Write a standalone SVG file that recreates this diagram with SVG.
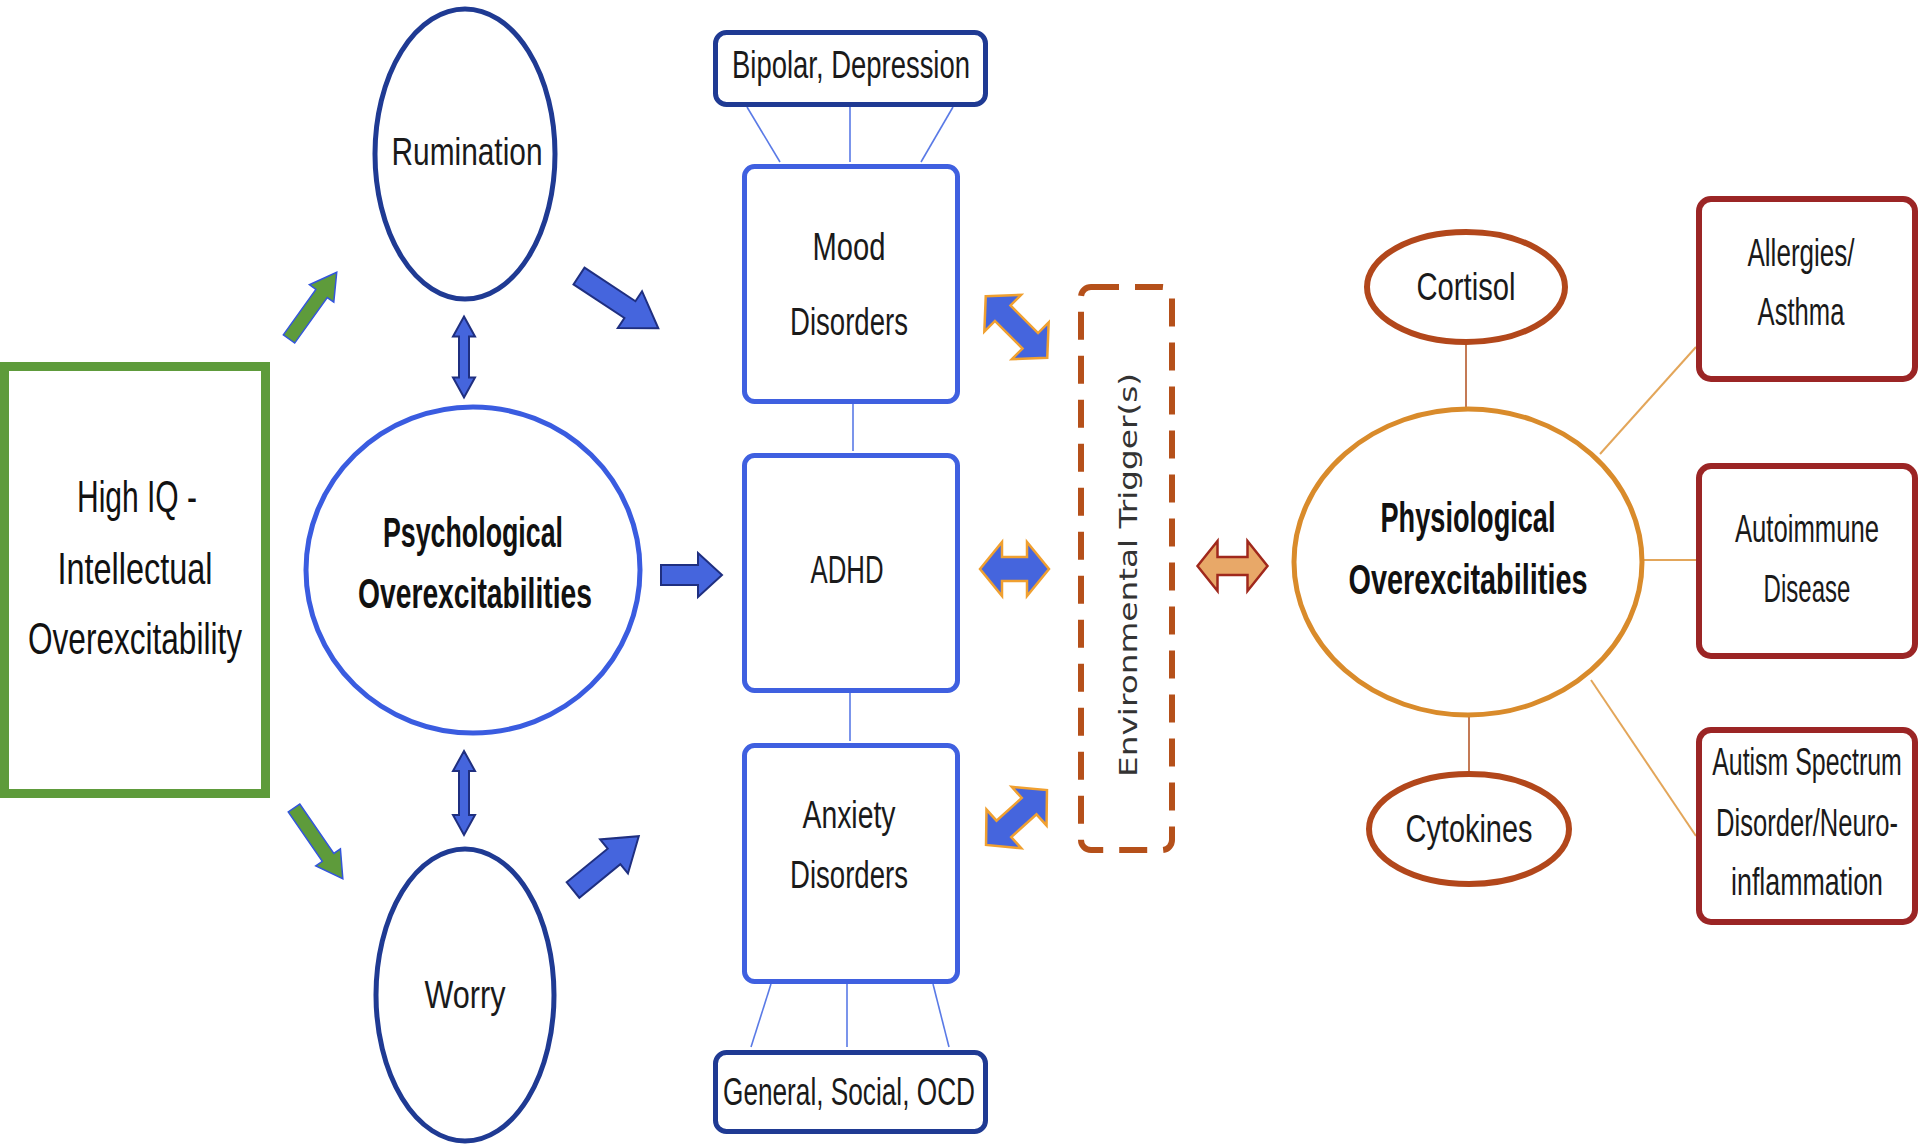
<svg xmlns="http://www.w3.org/2000/svg" width="1920" height="1144" viewBox="0 0 1920 1144">
<style>
.t{font-family:"Liberation Sans Narrow","Liberation Sans",Arial,sans-serif;font-size:38px;fill:#1a1a1a;text-anchor:middle}
.tb{font-family:"Liberation Sans Narrow","Liberation Sans",Arial,sans-serif;font-size:43px;font-weight:bold;fill:#111;text-anchor:middle}
.tl{font-family:"Liberation Sans Narrow","Liberation Sans",Arial,sans-serif;font-size:44px;fill:#111;text-anchor:middle}
.env{font-family:"DejaVu Sans",Verdana,sans-serif;font-size:24px;fill:#333;text-anchor:middle}
.navy{fill:#fff;stroke:#1f3a93;stroke-width:5}
.blue{fill:#fff;stroke:#3f60e0;stroke-width:5}
.red{fill:#fff;stroke:#9b2525;stroke-width:6}
.brown{fill:#fff;stroke:#b2471b;stroke-width:6}
.lb{stroke:#5a7ae6;stroke-width:1.6;fill:none}
.lo{stroke:#e3a65a;stroke-width:2;fill:none}
.lr{stroke:#c47a55;stroke-width:2;fill:none}
.ga{fill:#5e9b3b;stroke:#3355dd;stroke-width:1.5;stroke-linejoin:miter}
.ba{fill:#4565dd;stroke:#1f2f80;stroke-width:2;stroke-linejoin:miter}
.da{fill:#4565dd;stroke:#f0a030;stroke-width:2.5;stroke-linejoin:miter}
.oa{fill:#e8a868;stroke:#a0281c;stroke-width:2.5;stroke-linejoin:miter}
</style>
<rect width="1920" height="1144" fill="#fff"/>

<g id="connectors">
  <line class="lb" x1="747" y1="107" x2="780" y2="162"/>
  <line class="lb" x1="850" y1="107" x2="850" y2="162"/>
  <line class="lb" x1="953" y1="107" x2="921" y2="162"/>
  <line class="lb" x1="853" y1="404" x2="853" y2="451"/>
  <line class="lb" x1="850" y1="693" x2="850" y2="741"/>
  <line class="lb" x1="771" y1="984" x2="751" y2="1047"/>
  <line class="lb" x1="847" y1="984" x2="847" y2="1047"/>
  <line class="lb" x1="933" y1="984" x2="949" y2="1047"/>
  <line class="lr" x1="1466" y1="343" x2="1466" y2="409"/>
  <line class="lr" x1="1469" y1="715" x2="1469" y2="774"/>
  <line class="lo" x1="1600" y1="454" x2="1696" y2="347"/>
  <line class="lo" x1="1642" y1="560" x2="1696" y2="560"/>
  <line class="lo" x1="1591" y1="680" x2="1696" y2="836"/>
  <!-- green arrows -->
  <path class="ga" transform="translate(289,339) rotate(-54.4)" d="M0,-7 L56,-7 L56,-15 L82,0 L56,15 L56,7 L0,7 Z"/>
  <path class="ga" transform="translate(294,808) rotate(55.4)" d="M0,-7 L60,-7 L60,-15 L86,0 L60,15 L60,7 L0,7 Z"/>
  <!-- vertical double arrows -->
  <path class="ba" transform="translate(464,357) rotate(90)" d="M-40.5,0 L-20.5,-11 L-20.5,-5 L20.5,-5 L20.5,-11 L40.5,0 L20.5,11 L20.5,5 L-20.5,5 L-20.5,11 Z"/>
  <path class="ba" transform="translate(464,793) rotate(90)" d="M-42,0 L-22,-11 L-22,-5 L22,-5 L22,-11 L42,0 L22,11 L22,5 L-22,5 L-22,11 Z"/>
  <!-- blue block arrows -->
  <path class="ba" transform="translate(579,276) rotate(33.4)" d="M0,-10 L61,-10 L61,-22 L95,0 L61,22 L61,10 L0,10 Z"/>
  <path class="ba" transform="translate(661,575)" d="M0,-10 L37,-10 L37,-22 L61,0 L37,22 L37,10 L0,10 Z"/>
  <path class="ba" transform="translate(573,890) rotate(-39.3)" d="M0,-10 L53,-10 L53,-22 L85,0 L53,22 L53,10 L0,10 Z"/>
  <!-- double arrows to environmental triggers -->
  <path class="da" transform="translate(1016.5,327) rotate(45)" d="M-43.5,0 L-19.5,-26 L-19.5,-11 L19.5,-11 L19.5,-26 L43.5,0 L19.5,26 L19.5,11 L-19.5,11 L-19.5,26 Z"/>
  <path class="da" transform="translate(1014.5,569)" d="M-34.5,0 L-12.5,-27 L-12.5,-12 L12.5,-12 L12.5,-27 L34.5,0 L12.5,27 L12.5,12 L-12.5,12 L-12.5,27 Z"/>
  <path class="da" transform="translate(1016.5,817.5) rotate(-42)" d="M-41,0 L-17,-26 L-17,-11 L17,-11 L17,-26 L41,0 L17,26 L17,11 L-17,11 L-17,26 Z"/>
  <path class="oa" transform="translate(1232.5,566)" d="M-35,0 L-15,-25 L-15,-9 L15,-9 L15,-25 L35,0 L15,25 L15,9 L-15,9 L-15,25 Z"/>
</g>

<g id="high-iq">
  <rect x="4.5" y="366.5" width="261" height="427" fill="#fff" stroke="#5e9b3b" stroke-width="9"/>
  <text class="tl" x="137" y="512" textLength="120" lengthAdjust="spacingAndGlyphs">High IQ -</text>
  <text class="tl" x="135" y="584" textLength="155" lengthAdjust="spacingAndGlyphs">Intellectual</text>
  <text class="tl" x="135" y="654" textLength="214" lengthAdjust="spacingAndGlyphs">Overexcitability</text>
</g>

<g id="rumination">
  <ellipse class="navy" cx="465" cy="154" rx="90" ry="145"/>
  <text class="t" x="467" y="165" textLength="151" lengthAdjust="spacingAndGlyphs">Rumination</text>
</g>

<g id="psychological">
  <ellipse cx="473" cy="570" rx="167" ry="163" fill="#fff" stroke="#3a5ce0" stroke-width="5"/>
  <text class="tb" x="473" y="547" textLength="180" lengthAdjust="spacingAndGlyphs">Psychological</text>
  <text class="tb" x="475" y="608" textLength="234" lengthAdjust="spacingAndGlyphs">Overexcitabilities</text>
</g>

<g id="worry">
  <ellipse class="navy" cx="465" cy="995" rx="89" ry="146"/>
  <text class="t" x="465" y="1008" textLength="81" lengthAdjust="spacingAndGlyphs">Worry</text>
</g>

<g id="bipolar">
  <rect class="navy" x="715.5" y="32.5" width="270" height="72" rx="11" stroke-width="7"/>
  <text class="t" x="851" y="78" font-size="36" textLength="238" lengthAdjust="spacingAndGlyphs">Bipolar, Depression</text>
</g>

<g id="mood">
  <rect class="blue" x="744.5" y="166.5" width="213" height="235" rx="10"/>
  <text class="t" x="849" y="260" textLength="73" lengthAdjust="spacingAndGlyphs">Mood</text>
  <text class="t" x="849" y="335" textLength="118" lengthAdjust="spacingAndGlyphs">Disorders</text>
</g>

<g id="adhd">
  <rect class="blue" x="744.5" y="455.5" width="213" height="235" rx="10"/>
  <text class="t" x="847" y="583" textLength="73" lengthAdjust="spacingAndGlyphs">ADHD</text>
</g>

<g id="anxiety">
  <rect class="blue" x="744.5" y="745.5" width="213" height="236" rx="10"/>
  <text class="t" x="849" y="828" textLength="93" lengthAdjust="spacingAndGlyphs">Anxiety</text>
  <text class="t" x="849" y="888" textLength="118" lengthAdjust="spacingAndGlyphs">Disorders</text>
</g>

<g id="general">
  <rect class="navy" x="715.5" y="1052.5" width="270" height="79" rx="11" stroke-width="7"/>
  <text class="t" x="849" y="1105" font-size="36" textLength="252" lengthAdjust="spacingAndGlyphs">General, Social, OCD</text>
</g>

<g id="environmental">
  <rect x="1081" y="287" width="91" height="563" rx="10" fill="none" stroke="#b5501a" stroke-width="6" stroke-dasharray="28 16"/>
  <text class="env" transform="translate(1137,575) rotate(-90)" textLength="404" lengthAdjust="spacingAndGlyphs">Environmental Trigger(s)</text>
</g>

<g id="physiological">
  <ellipse cx="1468" cy="562" rx="174" ry="153" fill="#fff" stroke="#d98b2b" stroke-width="5"/>
  <text class="tb" x="1468" y="532" textLength="175" lengthAdjust="spacingAndGlyphs">Physiological</text>
  <text class="tb" x="1468" y="594" textLength="239" lengthAdjust="spacingAndGlyphs">Overexcitabilities</text>
</g>

<g id="cortisol">
  <ellipse class="brown" cx="1466" cy="287" rx="99" ry="55"/>
  <text class="t" x="1466" y="300" textLength="99" lengthAdjust="spacingAndGlyphs">Cortisol</text>
</g>

<g id="cytokines">
  <ellipse class="brown" cx="1469" cy="829" rx="100" ry="55"/>
  <text class="t" x="1469" y="842" textLength="127" lengthAdjust="spacingAndGlyphs">Cytokines</text>
</g>

<g id="allergies">
  <rect class="red" x="1699" y="199" width="216" height="180" rx="12"/>
  <text class="t" transform="translate(1801,266) scale(0.7,1)" textLength="153" lengthAdjust="spacingAndGlyphs">Allergies/</text>
  <text class="t" transform="translate(1801,325) scale(0.7,1)" textLength="124" lengthAdjust="spacingAndGlyphs">Asthma</text>
</g>

<g id="autoimmune">
  <rect class="red" x="1699" y="466" width="216" height="190" rx="12"/>
  <text class="t" transform="translate(1807,542) scale(0.7,1)" textLength="206" lengthAdjust="spacingAndGlyphs">Autoimmune</text>
  <text class="t" transform="translate(1807,602) scale(0.7,1)" textLength="124" lengthAdjust="spacingAndGlyphs">Disease</text>
</g>

<g id="autism">
  <rect class="red" x="1699" y="730" width="216" height="192" rx="12"/>
  <text class="t" transform="translate(1807,775) scale(0.7,1)" textLength="271" lengthAdjust="spacingAndGlyphs">Autism Spectrum</text>
  <text class="t" transform="translate(1807,836) scale(0.7,1)" textLength="260" lengthAdjust="spacingAndGlyphs">Disorder/Neuro-</text>
  <text class="t" transform="translate(1807,895) scale(0.7,1)" textLength="217" lengthAdjust="spacingAndGlyphs">inflammation</text>
</g>
</svg>
